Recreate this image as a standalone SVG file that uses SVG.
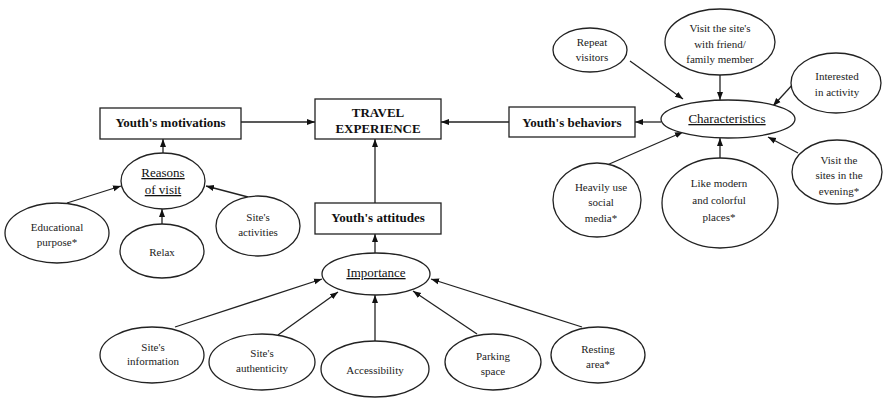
<svg xmlns="http://www.w3.org/2000/svg" width="885" height="398" viewBox="0 0 885 398" font-family="'Liberation Serif', 'Times New Roman', 'DejaVu Serif', serif">
<style>
.n{fill:#fff;stroke:#222;stroke-width:1.3}
.b{font-size:13px;font-weight:bold;fill:#111;text-anchor:middle}
.t{font-size:11px;fill:#222;text-anchor:middle}
.u{font-size:13px;fill:#111;text-anchor:middle;text-decoration:underline}
.c line{stroke:#222;stroke-width:1.3;marker-end:url(#ah)}
</style>
<defs>
<marker id="ah" markerUnits="userSpaceOnUse" markerWidth="8" markerHeight="8" viewBox="0 0 8 8" refX="8" refY="4" orient="auto">
<path d="M0,1 L8,4 L0,7 Z" fill="#111"/>
</marker>
</defs>
<rect width="885" height="398" fill="#fff"/>
<g class="c" id="connectors">
<line x1="241" y1="122" x2="315" y2="122"/>
<line x1="509" y1="122" x2="441" y2="122"/>
<line x1="375" y1="203" x2="375" y2="139"/>
<line x1="163" y1="153" x2="163" y2="139"/>
<line x1="67" y1="203" x2="121" y2="186"/>
<line x1="162" y1="224" x2="162" y2="209"/>
<line x1="248" y1="197" x2="206" y2="186"/>
<line x1="661" y1="122" x2="635" y2="122"/>
<line x1="630" y1="61" x2="683" y2="99"/>
<line x1="720" y1="75" x2="720" y2="100"/>
<line x1="794" y1="83" x2="773" y2="106"/>
<line x1="607" y1="165" x2="683" y2="132"/>
<line x1="720" y1="158" x2="720" y2="138"/>
<line x1="798" y1="153" x2="768" y2="137"/>
<line x1="375" y1="253" x2="375" y2="234"/>
<line x1="175" y1="327" x2="322" y2="279"/>
<line x1="278" y1="335" x2="338" y2="292"/>
<line x1="375" y1="341" x2="375" y2="295"/>
<line x1="477" y1="334" x2="413" y2="291"/>
<line x1="582" y1="327" x2="431" y2="279"/>
</g>
<g id="travel"><rect class="n" x="315" y="99" width="126" height="40"/><text class="b" x="378" y="116.5">TRAVEL</text><text class="b" x="378" y="132.5">EXPERIENCE</text></g>
<g id="motivations"><rect class="n" x="100" y="108" width="141" height="31"/><text class="b" x="170.5" y="127">Youth's motivations</text></g>
<g id="behaviors"><rect class="n" x="509" y="107" width="126" height="30"/><text class="b" x="572" y="127">Youth's behaviors</text></g>
<g id="attitudes"><rect class="n" x="315" y="203" width="126" height="31"/><text class="b" x="378" y="222">Youth's attitudes</text></g>
<g id="reasons"><ellipse class="n" cx="163" cy="181" rx="42" ry="28"/><text class="u" x="163" y="177">Reasons</text><text class="u" x="163" y="194">of visit</text></g>
<g id="educational"><ellipse class="n" cx="57" cy="233" rx="52" ry="30"/><text class="t" x="57" y="231">Educational</text><text class="t" x="57" y="246">purpose*</text></g>
<g id="relax"><ellipse class="n" cx="162" cy="251" rx="42" ry="27"/><text class="t" x="162" y="256">Relax</text></g>
<g id="activities"><ellipse class="n" cx="258" cy="226" rx="42" ry="30"/><text class="t" x="258" y="221">Site's</text><text class="t" x="258" y="236">activities</text></g>
<g id="characteristics"><ellipse class="n" cx="728" cy="119" rx="67" ry="19"/><text class="u" x="727" y="123">Characteristics</text></g>
<g id="repeat"><ellipse class="n" cx="590" cy="50" rx="37" ry="22"/><text class="t" x="592" y="46">Repeat</text><text class="t" x="592" y="61">visitors</text></g>
<g id="friend"><ellipse class="n" cx="720" cy="42" rx="55" ry="33"/><text class="t" x="720" y="32">Visit the site's</text><text class="t" x="720" y="47.5">with friend/</text><text class="t" x="720" y="63">family member</text></g>
<g id="interested"><ellipse class="n" cx="836" cy="83" rx="45" ry="30"/><text class="t" x="837" y="80">Interested</text><text class="t" x="837" y="96">in activity</text></g>
<g id="evening"><ellipse class="n" cx="837" cy="172" rx="45" ry="32"/><text class="t" x="839" y="164">Visit the</text><text class="t" x="839" y="179">sites in the</text><text class="t" x="839" y="195">evening*</text></g>
<g id="social"><ellipse class="n" cx="597" cy="200" rx="44" ry="37"/><text class="t" x="601" y="191">Heavily use</text><text class="t" x="601" y="206">social</text><text class="t" x="601" y="222">media*</text></g>
<g id="modern"><ellipse class="n" cx="720" cy="203" rx="58" ry="45"/><text class="t" x="719" y="187">Like modern</text><text class="t" x="719" y="204">and colorful</text><text class="t" x="719" y="221">places*</text></g>
<g id="importance"><ellipse class="n" cx="376" cy="274" rx="54" ry="21"/><text class="u" x="376" y="277">Importance</text></g>
<g id="information"><ellipse class="n" cx="152" cy="355" rx="52" ry="28"/><text class="t" x="153" y="351">Site's</text><text class="t" x="153" y="365">information</text></g>
<g id="authenticity"><ellipse class="n" cx="262" cy="362" rx="53" ry="28"/><text class="t" x="262" y="357">Site's</text><text class="t" x="262" y="372">authenticity</text></g>
<g id="accessibility"><ellipse class="n" cx="375" cy="369" rx="54" ry="28"/><text class="t" x="375" y="374">Accessibility</text></g>
<g id="parking"><ellipse class="n" cx="493" cy="362" rx="48" ry="28"/><text class="t" x="493" y="360">Parking</text><text class="t" x="493" y="375">space</text></g>
<g id="resting"><ellipse class="n" cx="598" cy="355" rx="47" ry="28"/><text class="t" x="598" y="353">Resting</text><text class="t" x="598" y="368">area*</text></g>
</svg>
